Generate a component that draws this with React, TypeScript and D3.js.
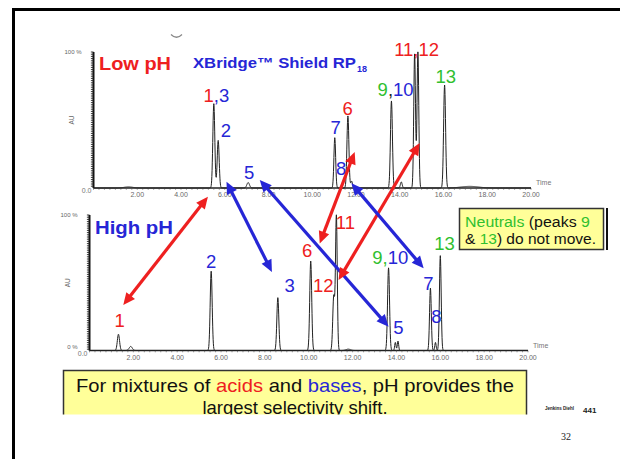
import React from "react";
import * as d3 from "d3";

// ---- data ----
const timeTicks = [2, 4, 6, 8, 10, 12, 14, 16, 18, 20];
const timeTickLabels = ["2.00", "4.00", "6.00", "8.00", "10.00", "12.00", "14.00", "16.00", "18.00", "20.00"];

// Low pH chromatogram peaks: retention time (min), relative height, width (sigma, min)
const lowPhTimes = [1.6, 5.5, 5.7, 7.07, 11.03, 11.63, 11.8, 13.62, 14.07, 14.68, 14.83, 16.05, 17.2];
const lowPhHeights = [0.008, 0.62, 0.35, 0.04, 0.37, 0.53, 0.05, 0.64, 0.045, 0.985, 1.0, 0.757, 0.012];
const lowPhWidths = [0.2, 0.045, 0.045, 0.06, 0.04, 0.045, 0.04, 0.045, 0.04, 0.04, 0.04, 0.045, 0.4];

// High pH chromatogram peaks
const highPhTimes = [1.32, 1.88, 5.55, 8.59, 10.09, 11.14, 11.26, 11.8, 13.64, 13.95, 14.07, 15.55, 15.78, 16.0];
const highPhHeights = [0.12, 0.03, 0.585, 0.39, 0.66, 0.4, 0.99, 0.01, 0.61, 0.06, 0.07, 0.46, 0.06, 0.7];
const highPhWidths = [0.05, 0.07, 0.045, 0.045, 0.045, 0.045, 0.04, 0.1, 0.045, 0.03, 0.03, 0.04, 0.03, 0.04];

const RED = "#ee2020";
const BLUE = "#2626d6";
const GREEN = "#2fbf2f";

type Part = [string, string];
type PeakLabel = { parts: Part[]; t: number; h: number };

const lowPhLabels: PeakLabel[] = [
  { parts: [["1", RED], [",3", BLUE]], t: 5.62, h: 0.635 },
  { parts: [["2", BLUE]], t: 6.05, h: 0.375 },
  { parts: [["5", BLUE]], t: 7.12, h: 0.066 },
  { parts: [["7", BLUE]], t: 11.07, h: 0.4 },
  { parts: [["6", RED]], t: 11.62, h: 0.537 },
  { parts: [["8", BLUE]], t: 11.32, h: 0.096 },
  { parts: [["9", GREEN], [",", "#222"], ["10", BLUE]], t: 13.81, h: 0.676 },
  { parts: [["11,12", RED]], t: 14.77, h: 0.97 },
  { parts: [["13", GREEN]], t: 16.1, h: 0.774 },
];

const highPhLabels: PeakLabel[] = [
  { parts: [["1", RED]], t: 1.37, h: 0.176 },
  { parts: [["2", BLUE]], t: 5.55, h: 0.61 },
  { parts: [["3", BLUE]], t: 9.13, h: 0.434 },
  { parts: [["6", RED]], t: 9.93, h: 0.69 },
  { parts: [["11", RED]], t: 11.67, h: 0.9 },
  { parts: [["12", RED]], t: 10.66, h: 0.434 },
  { parts: [["9,", GREEN], ["10", BLUE]], t: 13.72, h: 0.64 },
  { parts: [["13", GREEN]], t: 16.19, h: 0.74 },
  { parts: [["7", BLUE]], t: 15.46, h: 0.45 },
  { parts: [["5", BLUE]], t: 14.09, h: 0.122 },
  { parts: [["8", BLUE]], t: 15.82, h: 0.2 },
];

// Double-headed arrows: low pH position -> high pH position (time, height)
const arrowColors = [RED, BLUE, BLUE, RED, RED, BLUE];
const arrowFrom = [[5.23, -0.064], [6.08, 0.046], [7.6, 0.059], [11.94, 0.265], [14.91, 0.33], [11.79, 0.035]];
const arrowTo = [[1.54, 0.336], [8.32, 0.58], [13.64, 0.176], [10.5, 0.79], [11.36, 0.52], [15.24, 0.607]];

// ---- layout ----
const W = 620;
const H = 459;
const FONT = "'Liberation Sans', Arial, sans-serif";

const lowX = d3.scaleLinear().domain([0, 20]).range([93.5, 531]);
const lowY = d3.scaleLinear().domain([0, 1]).range([188, 52]);
const highX = d3.scaleLinear().domain([0, 20]).range([89.5, 528]);
const highY = d3.scaleLinear().domain([0, 1]).range([350.5, 215]);

function trace(times: number[], heights: number[], widths: number[]) {
  const pts: [number, number][] = [];
  for (let i = 0; i <= 2000; i++) {
    const t = i / 100;
    let v = 0;
    times.forEach((c, k) => {
      const z = (t - c) / widths[k];
      v += heights[k] * Math.exp(-0.5 * z * z);
    });
    pts.push([t, v]);
  }
  return pts;
}

function Chromatogram({
  x, y, times, heights, widths, labels, showZeroPct,
}: {
  x: d3.ScaleLinear<number, number>;
  y: d3.ScaleLinear<number, number>;
  times: number[];
  heights: number[];
  widths: number[];
  labels: PeakLabel[];
  showZeroPct: boolean;
}) {
  const line = d3.line<[number, number]>().x((d) => x(d[0])).y((d) => y(d[1]));
  const x0 = x(0);
  const y0 = y(0);
  const y1 = y(1);
  const yMinor = d3.range(y1, y0, 2.2);
  const xMinor = d3.range(0, 20.01, 0.25);
  return (
    <g>
      {/* y axis */}
      <line x1={x0} x2={x0} y1={y1} y2={y0} stroke="#111" strokeWidth={2} />
      {yMinor.map((v, i) => (
        <line key={i} x1={x0 - 2.6} x2={x0} y1={v} y2={v} stroke="#222" strokeWidth={0.9} />
      ))}
      <text x={x0 - 12} y={y1 + 2} fontSize={6} fill="#666" textAnchor="end" fontFamily={FONT}>100 %</text>
      {showZeroPct && (
        <text x={x0 - 12} y={y0 - 2} fontSize={6} fill="#666" textAnchor="end" fontFamily={FONT}>0 %</text>
      )}
      <text x={x0 - 2} y={y0 + 5} fontSize={7} fill="#777" textAnchor="end" fontFamily={FONT}>0.0</text>
      <text
        transform={`translate(${x0 - 20},${(y0 + y1) / 2}) rotate(-90)`}
        fontSize={6.5} fill="#666" textAnchor="middle" fontFamily={FONT}
      >AU</text>
      {/* x axis */}
      <line x1={x0} x2={x(20)} y1={y0} y2={y0} stroke="#222" strokeWidth={1.3} />
      {xMinor.map((v, i) => (
        <line key={i} x1={x(v)} x2={x(v)} y1={y0} y2={y0 + 1.8} stroke="#555" strokeWidth={0.6} />
      ))}
      {timeTicks.map((v, i) => (
        <text key={v} x={x(v)} y={y0 + 9} fontSize={7} fill="#6a6a6a" textAnchor="middle" fontFamily={FONT}>
          {timeTickLabels[i]}
        </text>
      ))}
      <text x={x(20) + 5} y={y0 - 3} fontSize={7} fill="#777" fontFamily={FONT}>Time</text>
      {/* trace */}
      <path d={line(trace(times, heights, widths)) || ""} fill="none" stroke="#222" strokeWidth={1} />
      {/* peak labels */}
      {labels.map((l, i) => (
        <text key={i} x={x(l.t)} y={y(l.h)} fontSize={18.5} textAnchor="middle" fontFamily={FONT}>
          {l.parts.map((p, j) => (
            <tspan key={j} fill={p[1]}>{p[0]}</tspan>
          ))}
        </text>
      ))}
    </g>
  );
}

function DoubleArrow({ x1, y1, x2, y2, color }: { x1: number; y1: number; x2: number; y2: number; color: string }) {
  const a = Math.atan2(y2 - y1, x2 - x1);
  const len = 12;
  const half = 5.5;
  const head = (px: number, py: number, dir: number) => {
    const bx = px - Math.cos(dir) * len;
    const by = py - Math.sin(dir) * len;
    const nx = -Math.sin(dir) * half;
    const ny = Math.cos(dir) * half;
    return `M${px},${py}L${bx + nx},${by + ny}L${bx - nx},${by - ny}Z`;
  };
  const sx = x1 + Math.cos(a) * (len - 2);
  const sy = y1 + Math.sin(a) * (len - 2);
  const ex = x2 - Math.cos(a) * (len - 2);
  const ey = y2 - Math.sin(a) * (len - 2);
  return (
    <g>
      <line x1={sx} y1={sy} x2={ex} y2={ey} stroke={color} strokeWidth={3.2} />
      <path d={head(x2, y2, a)} fill={color} />
      <path d={head(x1, y1, a + Math.PI)} fill={color} />
    </g>
  );
}

export default function App() {
  return (
    <svg width={W} height={H} style={{ position: "absolute", left: 0, top: 0, background: "#fff" }}>
      <rect x={0} y={0} width={W} height={H} fill="#fff" />
      {/* slide frame */}
      <path d={`M13.5,${H + 5}V9.5H${W + 5}`} fill="none" stroke="#000" strokeWidth={3} />
      <path d="M171,34.5 Q176.5,40 182,34.5" fill="none" stroke="#888" strokeWidth={1.2} />

      <Chromatogram
        x={lowX} y={lowY} times={lowPhTimes} heights={lowPhHeights} widths={lowPhWidths}
        labels={lowPhLabels} showZeroPct={false}
      />
      <Chromatogram
        x={highX} y={highY} times={highPhTimes} heights={highPhHeights} widths={highPhWidths}
        labels={highPhLabels} showZeroPct={true}
      />

      {/* titles */}
      <text x={99} y={70} fontSize={18} fontWeight="bold" fill={RED} fontFamily={FONT} textLength={72} lengthAdjust="spacingAndGlyphs">Low pH</text>
      <text x={193} y={68} fontSize={15} fontWeight="bold" fill={BLUE} fontFamily={FONT} textLength={163} lengthAdjust="spacingAndGlyphs">XBridge™ Shield RP</text>
      <text x={357} y={72} fontSize={9} fontWeight="bold" fill={BLUE} fontFamily={FONT}>18</text>
      <text x={95} y={234} fontSize={18} fontWeight="bold" fill={BLUE} fontFamily={FONT} textLength={78} lengthAdjust="spacingAndGlyphs">High pH</text>

      {/* selectivity arrows */}
      {arrowColors.map((c, i) => (
        <DoubleArrow
          key={i}
          x1={lowX(arrowFrom[i][0])} y1={lowY(arrowFrom[i][1])}
          x2={highX(arrowTo[i][0])} y2={highY(arrowTo[i][1])}
          color={c}
        />
      ))}

      {/* neutrals note */}
      <rect x={459.5} y={208.5} width={144} height={41} fill="#ffff99" stroke="#333" strokeWidth={1.5} />
      <line x1={607} x2={607} y1={208} y2={250} stroke="#111" strokeWidth={2} />
      <text x={465} y={227} fontSize={14} fontFamily={FONT} fill="#111" textLength={125} lengthAdjust="spacingAndGlyphs">
        <tspan fill={GREEN}>Neutrals</tspan> (peaks <tspan fill={GREEN}>9</tspan>
      </text>
      <text x={465} y={244} fontSize={14} fontFamily={FONT} fill="#111" textLength={131} lengthAdjust="spacingAndGlyphs">
        &amp; <tspan fill={GREEN}>13</tspan>) do not move.
      </text>

      {/* conclusion box */}
      <defs>
        <clipPath id="boxClip">
          <rect x={0} y={0} width={W} height={414.5} />
        </clipPath>
      </defs>
      <g clipPath="url(#boxClip)">
        <rect x={63.5} y={370.5} width={463} height={60} fill="#ffff99" stroke="#333" strokeWidth={1.5} />
        <text x={295} y={392} fontSize={18.5} textAnchor="middle" fontFamily={FONT} fill="#111" textLength={438} lengthAdjust="spacingAndGlyphs">
          For mixtures of <tspan fill={RED}>acids</tspan> and <tspan fill={BLUE}>bases</tspan>, pH provides the
        </text>
        <text x={295} y={414} fontSize={18.5} textAnchor="middle" fontFamily={FONT} fill="#111">
          largest selectivity shift.
        </text>
      </g>

      <text x={545} y={410} fontSize={4.5} fontWeight="bold" fontFamily={FONT} fill="#222">Jenkins Diehl</text>
      <text x={583} y={413} fontSize={8} fontWeight="bold" fontFamily={FONT} fill="#222">441</text>
      <text x={566} y={440} fontSize={10} fontFamily="'Liberation Serif', serif" fill="#222" textAnchor="middle">32</text>
    </svg>
  );
}
